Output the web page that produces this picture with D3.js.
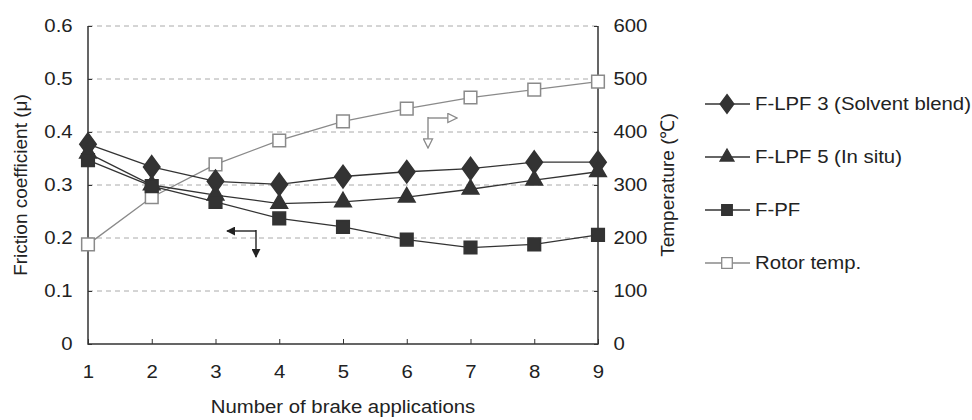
<!DOCTYPE html>
<html>
<head>
<meta charset="utf-8">
<script src="https://cdn.jsdelivr.net/npm/d3@7"></script>
<style>
  body { margin: 0; background: #fff; }
  text { font-family: "Liberation Sans", Arial, sans-serif; fill: #222; }
</style>
</head>
<body>
<div id="chart"></div>
<script>
// data
var applications = [1, 2, 3, 4, 5, 6, 7, 8, 9];
var lpf3 = [0.377, 0.334, 0.307, 0.301, 0.316, 0.325, 0.331, 0.343, 0.343];
var lpf5 = [0.360, 0.300, 0.281, 0.265, 0.268, 0.277, 0.292, 0.309, 0.325];
var fpf = [0.347, 0.298, 0.268, 0.237, 0.221, 0.197, 0.182, 0.188, 0.206];
var rotorTemp = [188, 277, 339, 384, 420, 444, 465, 480, 495];
var muTicks = [0, 0.1, 0.2, 0.3, 0.4, 0.5, 0.6];
var tempTicks = [0, 100, 200, 300, 400, 500, 600];
var seriesNames = ["F-LPF 3 (Solvent blend)", "F-LPF 5 (In situ)", "F-PF", "Rotor temp."];

var width = 972, height = 420;
// plot box (note: "top" is reserved on window, so use plot* names)
var plotLeft = 88, plotRight = 598, plotTop = 26, plotBottom = 344;

// the source figure is a little stretched sideways
var fontSize = 18.5;
var stretch = 1.1;

var svg = d3.select("#chart").append("svg")
    .attr("width", width)
    .attr("height", height);

var xScale = d3.scaleLinear().domain([1, 9]).range([plotLeft, plotRight]);
var yScale = d3.scaleLinear().domain([0, 0.6]).range([plotBottom, plotTop]);
var tScale = d3.scaleLinear().domain([0, 600]).range([plotBottom, plotTop]);

// dashed grid
svg.append("g")
    .selectAll("line")
    .data(muTicks.filter(function(d) { return d > 0; }))
    .enter().append("line")
    .attr("x1", plotLeft).attr("x2", plotRight)
    .attr("y1", function(d) { return yScale(d); })
    .attr("y2", function(d) { return yScale(d); })
    .attr("stroke", "#aaa")
    .attr("stroke-width", 1)
    .attr("stroke-dasharray", "5,4");

// axes
var axisColor = "#333";
var xAxis = d3.axisBottom(xScale).tickValues(applications).tickSize(-5).tickPadding(21).tickFormat(d3.format("d"));
var yAxis = d3.axisLeft(yScale).tickValues(muTicks).tickSize(-4).tickPadding(14).tickFormat(function(d) { return d === 0 ? "0" : d3.format(".1f")(d); });
var tAxis = d3.axisRight(tScale).tickValues(tempTicks).tickSize(-4).tickPadding(14);

function styleAxis(g) {
  g.select(".domain").remove();
  g.selectAll("line").attr("stroke", axisColor);
  g.selectAll("text").attr("font-size", fontSize).attr("fill", "#222")
    .attr("transform", "scale(" + stretch + ",1)")
    .style("font-family", "'Liberation Sans', Arial, sans-serif");
}

svg.append("g").attr("transform", "translate(0," + plotBottom + ")").call(xAxis).call(styleAxis);
svg.append("g").attr("transform", "translate(" + plotLeft + ",0)").call(yAxis).call(styleAxis);
svg.append("g").attr("transform", "translate(" + plotRight + ",0)").call(tAxis).call(styleAxis);

// axis lines
svg.append("path")
    .attr("d", "M" + plotLeft + "," + plotTop + "V" + plotBottom + "H" + plotRight + "V" + plotTop)
    .attr("fill", "none")
    .attr("stroke", axisColor)
    .attr("stroke-width", 1.5);

// axis titles
svg.append("text")
    .attr("transform", "translate(" + (plotLeft + plotRight) / 2 + ",413)scale(" + stretch + ",1)")
    .attr("text-anchor", "middle").attr("font-size", fontSize)
    .text("Number of brake applications");
svg.append("text")
    .attr("transform", "translate(27," + (plotTop + plotBottom) / 2 + ")rotate(-90)")
    .attr("text-anchor", "middle").attr("font-size", 19)
    .text("Friction coefficient (μ)");
svg.append("text")
    .attr("transform", "translate(674," + (plotTop + plotBottom) / 2 + ")rotate(-90)")
    .attr("text-anchor", "middle").attr("font-size", 19)
    .text("Temperature (℃)");

// series
var dark = "#333";
var grey = "#8a8a8a";
var series = [
  { name: seriesNames[0], values: lpf3, scale: yScale, color: dark, shape: d3.symbolDiamond, size: 160, fill: dark, wide: true },
  { name: seriesNames[1], values: lpf5, scale: yScale, color: dark, shape: d3.symbolTriangle, size: 120, fill: dark },
  { name: seriesNames[2], values: fpf, scale: yScale, color: dark, shape: d3.symbolSquare, size: 160, fill: dark },
  { name: seriesNames[3], values: rotorTemp, scale: tScale, color: grey, shape: d3.symbolSquare, size: 160, fill: "#fff" }
];

// draw rotor first so black series sit above
[3, 0, 1, 2].forEach(function(i) {
  var s = series[i];
  var line = d3.line()
      .x(function(d, j) { return xScale(applications[j]); })
      .y(function(d) { return s.scale(d); });
  var g = svg.append("g");
  g.append("path")
      .datum(s.values)
      .attr("d", line)
      .attr("fill", "none")
      .attr("stroke", s.color)
      .attr("stroke-width", 1.3);
  g.selectAll("path.pt")
      .data(s.values)
      .enter().append("path")
      .attr("class", "pt")
      .attr("d", d3.symbol().type(s.shape).size(s.size))
      .attr("transform", function(d, j) {
        return "translate(" + xScale(applications[j]) + "," + s.scale(d) + ")" + (s.wide ? "scale(1.2,0.95)" : "");
      })
      .attr("fill", s.fill)
      .attr("stroke", s.color)
      .attr("stroke-width", 1.5);
});

// annotation arrows
var defs = svg.append("defs");
defs.append("marker").attr("id", "arrBlack")
    .attr("viewBox", "0 0 10 10").attr("refX", 9).attr("refY", 5)
    .attr("markerWidth", 9).attr("markerHeight", 9).attr("markerUnits", "userSpaceOnUse")
    .attr("orient", "auto")
    .append("path").attr("d", "M0,0L10,5L0,10Z").attr("fill", "#222");
defs.append("marker").attr("id", "arrGrey")
    .attr("viewBox", "0 0 12 12").attr("refX", 11).attr("refY", 6)
    .attr("markerWidth", 11).attr("markerHeight", 11).attr("markerUnits", "userSpaceOnUse")
    .attr("orient", "auto")
    .append("path").attr("d", "M1,1L11,6L1,11Z").attr("fill", "#fff").attr("stroke", grey).attr("stroke-width", 1.4);

svg.append("path").attr("d", "M256,231H227").attr("stroke", "#222").attr("stroke-width", 1.4).attr("marker-end", "url(#arrBlack)");
svg.append("path").attr("d", "M256,230V257").attr("stroke", "#222").attr("stroke-width", 1.4).attr("marker-end", "url(#arrBlack)");
svg.append("path").attr("d", "M428,118H457").attr("stroke", grey).attr("stroke-width", 1.4).attr("marker-end", "url(#arrGrey)");
svg.append("path").attr("d", "M428,117V148").attr("stroke", grey).attr("stroke-width", 1.4).attr("marker-end", "url(#arrGrey)");

// legend
var legendY = [104, 157, 210, 263];
var legend = svg.append("g");
series.forEach(function(s, i) {
  var y = legendY[i];
  legend.append("line")
      .attr("x1", 705).attr("x2", 750).attr("y1", y).attr("y2", y)
      .attr("stroke", s.color).attr("stroke-width", 1.3);
  legend.append("path")
      .attr("d", d3.symbol().type(s.shape).size(s.size * 0.7))
      .attr("transform", "translate(727," + y + ")" + (s.wide ? "scale(1.2,0.95)" : ""))
      .attr("fill", s.fill).attr("stroke", s.color).attr("stroke-width", 1.3);
  legend.append("text")
      .attr("transform", "translate(755," + y + ")scale(" + stretch + ",1)")
      .attr("dy", "0.35em")
      .attr("font-size", fontSize)
      .text(s.name);
});
</script>
</body>
</html>
